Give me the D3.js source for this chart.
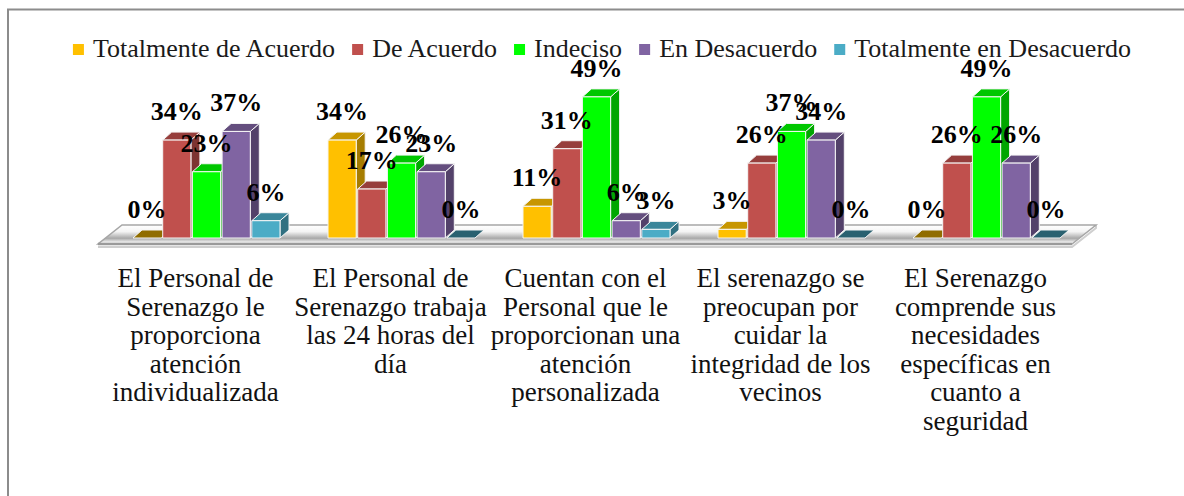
<!DOCTYPE html>
<html>
<head>
<meta charset="utf-8">
<script src="https://cdn.jsdelivr.net/npm/d3@7"></script>
<style>
body { margin: 0; background: #fff; }
</style>
</head>
<body>
<svg id="container" width="1184" height="496" font-family="'Liberation Serif', 'Times New Roman', Tinos, 'DejaVu Serif', 'Noto Serif', serif"></svg>
<script>

// category labels, already split in lines as in the picture
const categories = [
    ["El Personal de", "Serenazgo le", "proporciona", "atención", "individualizada"],
    ["El Personal de", "Serenazgo trabaja", "las 24 horas del", "día"],
    ["Cuentan con el", "Personal que le", "proporcionan una", "atención", "personalizada"],
    ["El serenazgo se", "preocupan por", "cuidar la", "integridad de los", "vecinos"],
    ["El Serenazgo", "comprende sus", "necesidades", "específicas en", "cuanto a", "seguridad"]
];

const seriesNames = ["Totalmente de Acuerdo", "De Acuerdo", "Indeciso", "En Desacuerdo", "Totalmente en Desacuerdo"];
const seriesColors = ["#FFC000", "#C0504D", "#00FF00", "#8064A2", "#4BACC6"];

const totalmenteDeAcuerdo = [0, 34, 11, 3, 0];
const deAcuerdo = [34, 17, 31, 26, 26];
const indeciso = [23, 26, 49, 37, 49];
const enDesacuerdo = [37, 23, 6, 34, 26];
const totalmenteEnDesacuerdo = [6, 0, 3, 0, 0];

const seriesValues = [totalmenteDeAcuerdo, deAcuerdo, indeciso, enDesacuerdo, totalmenteEnDesacuerdo];

const svg = d3.select('#container');
const width = +svg.attr('width');
const height = +svg.attr('height');

// 3d depth of the columns and of the floor
const depth = {dx: 9, dy: -8};
const floorDepth = {dx: 24, dy: -19};

const x = d3.scaleBand()
    .domain(d3.range(categories.length))
    .range([109, 1084])
    .paddingInner(0.246)
    .paddingOuter(0.123);

const xs = d3.scaleBand()
    .domain(d3.range(seriesNames.length))
    .range([0, x.bandwidth()])
    .paddingInner(0.05);

const y = d3.scaleLinear()
    .domain([0, 50])
    .range([238, 94]);

// outer frame (only left and top are inside the picture)
svg.append('rect')
    .attr('x', 8).attr('y', 9.5)
    .attr('width', 1300).attr('height', 700)
    .attr('fill', 'none')
    .attr('stroke', '#8c8c8c')
    .attr('stroke-width', 2);

// legend
const legend = svg.append('g');
let lx = 0;
seriesNames.forEach((name, i) => {
    const item = legend.append('g').attr('transform', `translate(${lx},0)`);
    item.append('rect')
        .attr('x', 0).attr('y', 44)
        .attr('width', 11).attr('height', 11)
        .attr('fill', seriesColors[i]);
    const t = item.append('text')
        .attr('x', 20).attr('y', 57)
        .attr('font-size', 26)
        .attr('fill', '#1a1a1a')
        .text(name);
    lx += 20 + t.node().getComputedTextLength() + 17;
});
legend.attr('transform', `translate(${602 - (lx - 17) / 2},0)`);

// floor
const defs = svg.append('defs');
const grad = defs.append('linearGradient')
    .attr('id', 'floorGrad')
    .attr('x1', 0).attr('y1', 0).attr('x2', 0).attr('y2', 1);
grad.append('stop').attr('offset', '0%').attr('stop-color', '#ffffff');
grad.append('stop').attr('offset', '35%').attr('stop-color', '#f4f4f4');
grad.append('stop').attr('offset', '70%').attr('stop-color', '#a8a8a8');
grad.append('stop').attr('offset', '88%').attr('stop-color', '#e6e6e6');
grad.append('stop').attr('offset', '100%').attr('stop-color', '#ffffff');

const fx0 = x.range()[0] - 11;
const fx1 = x.range()[1] - 12;
const fy = y(0) + 6;

svg.append('path')
    .attr('d', `M${fx0},${fy + 3}L${fx1},${fy + 3}L${fx1 + floorDepth.dx},${fy + floorDepth.dy + 3}L${fx1 + floorDepth.dx},${fy + floorDepth.dy}`)
    .attr('fill', 'none')
    .attr('stroke', '#cfcfcf')
    .attr('stroke-width', 2);

svg.append('polygon')
    .attr('points', [
        [fx0, fy], [fx1, fy],
        [fx1 + floorDepth.dx, fy + floorDepth.dy],
        [fx0 + floorDepth.dx, fy + floorDepth.dy]
    ].join(' '))
    .attr('fill', 'url(#floorGrad)')
    .attr('stroke', '#a6a6a6')
    .attr('stroke-width', 1.5);

svg.append('line')
    .attr('x1', fx0).attr('y1', fy)
    .attr('x2', fx1).attr('y2', fy)
    .attr('stroke', '#9a9a9a')
    .attr('stroke-width', 2.5);

// columns
const bars = [];
categories.forEach((c, ci) => {
    seriesValues.forEach((vals, si) => {
        bars.push({ci: ci, si: si, value: vals[ci]});
    });
});

const barG = svg.selectAll('g.bar')
    .data(bars)
    .enter()
    .append('g')
    .attr('class', 'bar')
    .attr('stroke', '#f6f6f6')
    .attr('stroke-width', 1)
    .attr('stroke-linejoin', 'round');

barG.each(function(d) {
    const g = d3.select(this);
    const x0 = x(d.ci) + xs(d.si);
    const w = xs.bandwidth();
    const y0 = y(0);
    const yt = y(d.value);
    const base = d3.color(seriesColors[d.si]);
    const topC = base.darker(d.value === 0 ? 1.6 : 0.7).formatHex();
    const sideC = base.darker(1.2).formatHex();

    if (d.value > 0) {
        g.append('polygon')
            .attr('points', [[x0 + w, yt], [x0 + w + depth.dx, yt + depth.dy],
                [x0 + w + depth.dx, y0 + depth.dy], [x0 + w, y0]].join(' '))
            .attr('fill', sideC);
    }
    g.append('polygon')
        .attr('points', [[x0, yt], [x0 + depth.dx, yt + depth.dy],
            [x0 + w + depth.dx, yt + depth.dy], [x0 + w, yt]].join(' '))
        .attr('fill', topC);
    if (d.value > 0) {
        g.append('rect')
            .attr('x', x0).attr('y', yt)
            .attr('width', w).attr('height', y0 - yt)
            .attr('fill', base.formatHex());
    }
});

// value labels
svg.selectAll('text.value')
    .data(bars)
    .enter()
    .append('text')
    .attr('class', 'value')
    .attr('x', d => x(d.ci) + xs(d.si) + xs.bandwidth() / 2)
    .attr('y', d => y(d.value) - 20)
    .attr('text-anchor', 'middle')
    .attr('font-size', 26)
    .attr('font-weight', 'bold')
    .attr('fill', '#000')
    .text(d => d.value + '%');

// category labels
svg.selectAll('text.cat')
    .data(categories)
    .enter()
    .append('text')
    .attr('class', 'cat')
    .attr('text-anchor', 'middle')
    .attr('font-size', 27)
    .attr('fill', '#111')
    .each(function(lines, i) {
        const t = d3.select(this);
        lines.forEach((line, k) => {
            t.append('tspan')
                .attr('x', x(i) + x.bandwidth() / 2 - 11)
                .attr('y', 287 + k * 28.5)
                .text(line);
        });
    });

</script>
</body>
</html>
